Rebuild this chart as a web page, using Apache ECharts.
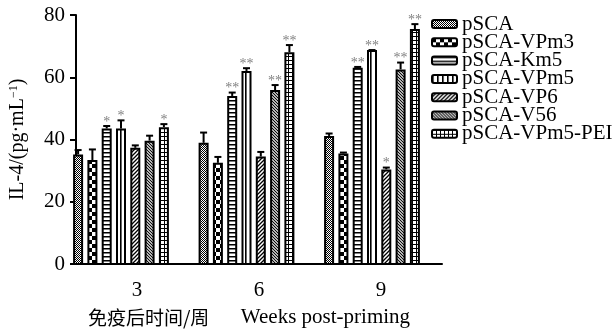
<!DOCTYPE html>
<html><head><meta charset="utf-8">
<script src="https://cdn.jsdelivr.net/npm/echarts@6/dist/echarts.min.js"></script>
<style>html,body{margin:0;padding:0;background:#fff}#c{width:615px;height:333px}</style>
</head><body><div id="c"></div>
<script>
// ---- data ----
const categories = ['3', '6', '9'];
const seriesNames = ['pSCA', 'pSCA-VPm3', 'pSCA-Km5', 'pSCA-VPm5', 'pSCA-VP6', 'pSCA-V56', 'pSCA-VPm5-PEI'];
const valPSCA   = [35.4, 39.1, 41.3];
const valVPm3   = [33.6, 32.7, 35.7];
const valKm5    = [43.7, 54.1, 63.1];
const valVPm5   = [43.7, 62.1, 68.8];
const valVP6    = [37.5, 34.7, 30.6];
const valV56    = [39.8, 56.0, 62.6];
const valPEI    = [44.1, 68.1, 75.5];
const errPSCA   = [1.7, 3.6, 1.1];
const errVPm3   = [3.7, 2.2, 0.6];
const errKm5    = [1.1, 1.4, 0.6];
const errVPm5   = [2.9, 1.2, 0.3];
const errVP6    = [1.1, 1.8, 0.9];
const errV56    = [1.9, 1.9, 2.5];
const errPEI    = [1.3, 2.6, 1.9];
const sigPSCA   = ['', '', ''];
const sigVPm3   = ['', '', ''];
const sigKm5    = ['*', '**', '**'];
const sigVPm5   = ['*', '**', '**'];
const sigVP6    = ['', '', '*'];
const sigV56    = ['', '**', '**'];
const sigPEI    = ['*', '**', '**'];
const yTicks = [0, 20, 40, 60, 80];

const values = [valPSCA, valVPm3, valKm5, valVPm5, valVP6, valV56, valPEI];
const errors = [errPSCA, errVPm3, errKm5, errVPm5, errVP6, errV56, errPEI];
const sigs = [sigPSCA, sigVPm3, sigKm5, sigVPm5, sigVP6, sigV56, sigPEI];

// ---- patterns ----
function makePattern(kind) {
  const c = document.createElement('canvas');
  let w = 4, h = 4;
  if (kind === 'fine') { w = 2; h = 2; }
  if (kind === 'big') { w = 8; h = 8; }
  if (kind === 'h') { w = 4; h = 4; }
  if (kind === 'v') { w = 5; h = 4; }
  if (kind === 'f') { w = 4; h = 4; }
  if (kind === 'b') { w = 3; h = 3; }
  if (kind === 'g') { w = 4; h = 4; }
  c.width = w; c.height = h;
  const x = c.getContext('2d');
  x.fillStyle = '#fff'; x.fillRect(0, 0, w, h);
  x.fillStyle = '#000'; x.strokeStyle = '#000';
  if (kind === 'fine') { x.fillRect(0, 0, 1, 1); x.fillRect(1, 1, 1, 1); }
  if (kind === 'big') { x.fillRect(0, 0, 4, 4); x.fillRect(4, 4, 4, 4); }
  if (kind === 'h') { x.fillRect(0, 0, w, 1.5); }
  if (kind === 'v') { x.fillRect(0, 0, 1.6, h); }
  if (kind === 'f') {
    x.lineWidth = 1.3;
    x.beginPath();
    x.moveTo(-1, 5); x.lineTo(5, -1);
    x.moveTo(-1, 1); x.lineTo(1, -1);
    x.moveTo(3, 5); x.lineTo(5, 3);
    x.stroke();
  }
  if (kind === 'b') {
    x.lineWidth = 1.1;
    x.beginPath();
    x.moveTo(-1, -1); x.lineTo(4, 4);
    x.moveTo(-1, 2); x.lineTo(1, 4);
    x.moveTo(2, -1); x.lineTo(4, 1);
    x.stroke();
  }
  if (kind === 'g') { x.fillRect(0, 0, w, 1); x.fillRect(0, 0, 1, h); }
  return { image: c, repeat: 'repeat' };
}
const kinds = ['fine', 'big', 'h', 'v', 'f', 'b', 'g'];

const BAR_W = 10, BAR_GAP = 0.43;
const PITCH = BAR_W * (1 + BAR_GAP);
const serif = "'Liberation Serif', 'Times New Roman', serif";

const barSeries = seriesNames.map((n, i) => ({
  name: n, type: 'bar', xAxisIndex: 0, yAxisIndex: 0,
  barWidth: BAR_W, barGap: (BAR_GAP * 100) + '%',
  data: values[i],
  itemStyle: { color: makePattern(kinds[i]), borderColor: '#000', borderWidth: 2 },
  emphasis: { disabled: true }
}));

const errData = [];
for (let s = 0; s < values.length; s++)
  for (let c = 0; c < categories.length; c++)
    errData.push([c, values[s][c], errors[s][c], s]);

const errSeries = {
  name: 'err', type: 'custom', xAxisIndex: 0, yAxisIndex: 0,
  data: errData, encode: { x: 0, y: 1 }, clip: false, z: 5,
  renderItem: function (params, api) {
    const c = api.value(0), v = api.value(1), e = api.value(2), s = api.value(3);
    const p0 = api.coord([c, v]);
    const p1 = api.coord([c, v + e]);
    const x = p0[0] + (s - 3) * PITCH;
    const children = [
      { type: 'line', shape: { x1: x, y1: p0[1], x2: x, y2: p1[1] + 1 }, style: { stroke: '#000', lineWidth: 2 } },
      { type: 'line', shape: { x1: x - 3.5, y1: p1[1] + 1, x2: x + 3.5, y2: p1[1] + 1 }, style: { stroke: '#000', lineWidth: 2 } }
    ];
    const t = sigs[s][c];
    if (t) children.push({ type: 'text', style: { text: t, x: x, y: p1[1] - 3, fill: '#808080', font: '14px ' + serif, textAlign: 'center', textVerticalAlign: 'middle' } });
    return { type: 'group', children: children };
  }
};

const chart = echarts.init(document.getElementById('c'), null, { renderer: 'canvas' });
chart.setOption({
  animation: false,
  backgroundColor: '#fff',
  grid: [
    { left: 58.25, right: 180.25, top: 15, bottom: 68 },
    { left: 65.5, right: 173, top: 15, bottom: 68 }
  ],
  legend: {
    data: seriesNames, orient: 'vertical', left: 426, top: 8.5,
    itemWidth: 25, itemHeight: 8, itemGap: -2.7,
    textStyle: { fontFamily: serif, fontSize: 21, color: '#000' },
    selectedMode: false
  },
  xAxis: [
    { gridIndex: 0, type: 'category', data: categories, show: false },
    {
      gridIndex: 1, type: 'category', data: categories,
      axisLine: { lineStyle: { color: '#000', width: 2 } },
      axisTick: { alignWithLabel: true, length: 7, lineStyle: { width: 2, color: '#000' } },
      axisLabel: { fontFamily: serif, fontSize: 21, color: '#000', margin: 16 },
      name: '{cn|免疫后时间/周}      Weeks post-priming', nameLocation: 'middle', nameGap: 43,
      nameTextStyle: {
        fontFamily: serif, fontSize: 21, color: '#000', padding: [0, 20, 0, 0],
        rich: { cn: { fontFamily: "'Noto Sans CJK SC', sans-serif", fontSize: 19, color: '#000' } }
      }
    }
  ],
  yAxis: [
    { gridIndex: 0, type: 'value', min: 0, max: 80, interval: 20, show: false },
    {
      gridIndex: 1, type: 'value', min: yTicks[0], max: yTicks[yTicks.length - 1], interval: 20,
      axisLine: { show: true, lineStyle: { color: '#000', width: 2 } },
      axisTick: { show: true, length: 6, lineStyle: { width: 2, color: '#000' } },
      splitLine: { show: false },
      axisLabel: { fontFamily: serif, fontSize: 21, color: '#000', margin: 11 },
      name: 'IL-4/(pg·mL{sup|−1})', nameLocation: 'middle', nameGap: 48, nameRotate: 90,
      nameTextStyle: {
        fontFamily: serif, fontSize: 20, color: '#000',
        rich: { sup: { fontFamily: serif, fontSize: 12, verticalAlign: 'top', color: '#000', padding: [0, 0, 8, 0] } }
      }
    }
  ],
  series: barSeries.concat([errSeries])
});
</script>
</body></html>
